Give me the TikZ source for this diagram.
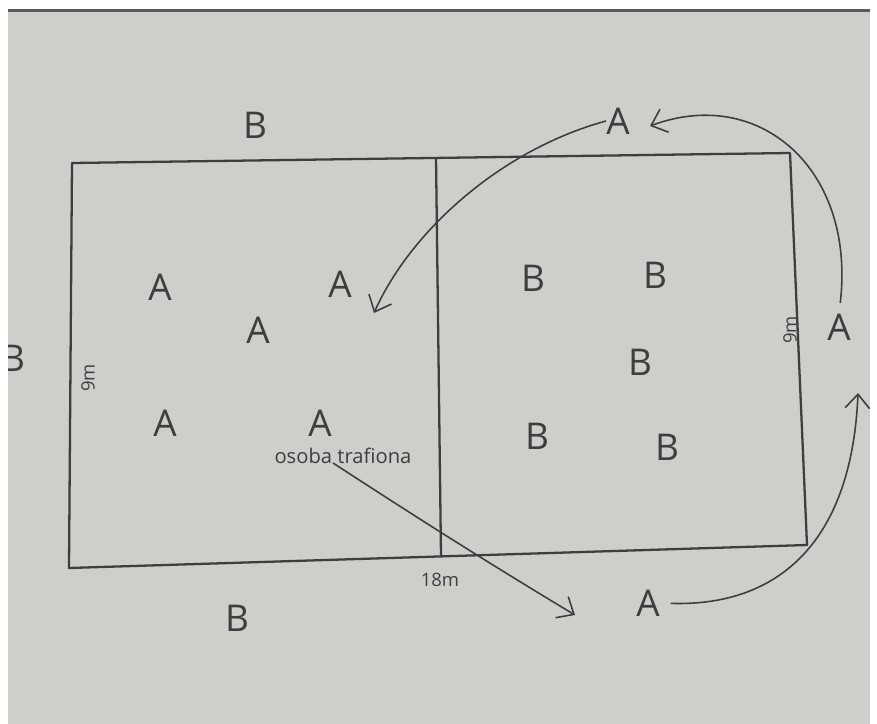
\documentclass[tikz,border=0pt]{standalone}
\usepackage{fontspec}
\setmainfont{Open Sans}
\usetikzlibrary{arrows.meta}
\definecolor{paper}{RGB}{206,206,202}
\definecolor{ink}{RGB}{62,62,62}
\tikzset{
  big/.style={text=ink,font=\fontsize{21}{24}\selectfont,inner sep=0pt},
  small/.style={text=ink,font=\fontsize{11.5}{13}\selectfont,inner sep=1pt},
  dimtext/.style={text=ink,font=\fontsize{10.5}{12}\selectfont,inner sep=1pt},
  courtline/.style={draw=ink,line width=1.3pt,line join=round},
  arr/.style={draw=ink,line width=0.9pt,-{Straight Barb[length=8pt,width=14pt]}},
}
\begin{document}
\begin{tikzpicture}[x=0.02cm,y=-0.02cm]
\useasboundingbox (0,0) rectangle (877,724);
\fill[white] (0,0) rectangle (877,724);
\fill[paper] (8,10) rectangle (870,724);
\draw[gray!70!black,line width=1.2pt] (8,10.5) -- (870,10.5);
\begin{scope}
\clip (8,10) rectangle (870,724);
% court corners
\coordinate (tl) at (72,163);
\coordinate (tr) at (790,153);
\coordinate (br) at (807,545);
\coordinate (bl) at (69,568);
\coordinate (mt) at (436,157);
\coordinate (mb) at (441,556);
\draw[courtline] (tl) -- (tr) -- (br) -- (bl) -- cycle;
\draw[courtline] (mt) -- (mb);
% outside labels
\node[big] (Btop) at (255,125) {B};
\node[big] (Bleft) at (13,358) {B};
\node[big] (Bbot) at (237,618) {B};
\node[big] (Atop) at (618,121) {A};
\node[big] (Aright) at (839,327) {A};
\node[big] (Abot) at (648,603) {A};
% left half
\node[big] (A1) at (160,287) {A};
\node[big] (A2) at (340,284) {A};
\node[big] (A3) at (258,330) {A};
\node[big] (A4) at (165,423) {A};
\node[big] (A5) at (320,423) {A};
\node[small] (osoba) at (343,456) {osoba trafiona};
% right half
\node[big] (B1) at (533,278) {B};
\node[big] (B2) at (655,275) {B};
\node[big] (B3) at (640,362) {B};
\node[big] (B4) at (537,436) {B};
\node[big] (B5) at (667,447) {B};
% dimensions
\node[dimtext,rotate=90] (dimL) at (88,378) {9m};
\node[dimtext,rotate=90] (dimR) at (790,330) {9m};
\node[dimtext] (dimB) at (440,580) {18m};
% arrows
\coordinate (s1) at (333,463);
\coordinate (e1) at (575,615);
\coordinate (e2) at (858,393);
\coordinate (e3) at (650,126);
\coordinate (e4) at (374,313);
\draw[arr] (s1) .. controls (390,500) and (470,552) .. (e1);
\draw[arr,shorten <=6pt] (Abot.east) .. controls (780,607) and (852,540) .. (e2);
\draw[arr,shorten <=6pt] (Aright.north) .. controls (856,170) and (760,85) .. (e3);
\draw[arr] (Atop.west) .. controls (500,150) and (410,232) .. (e4);
\end{scope}
\end{tikzpicture}
\end{document}
